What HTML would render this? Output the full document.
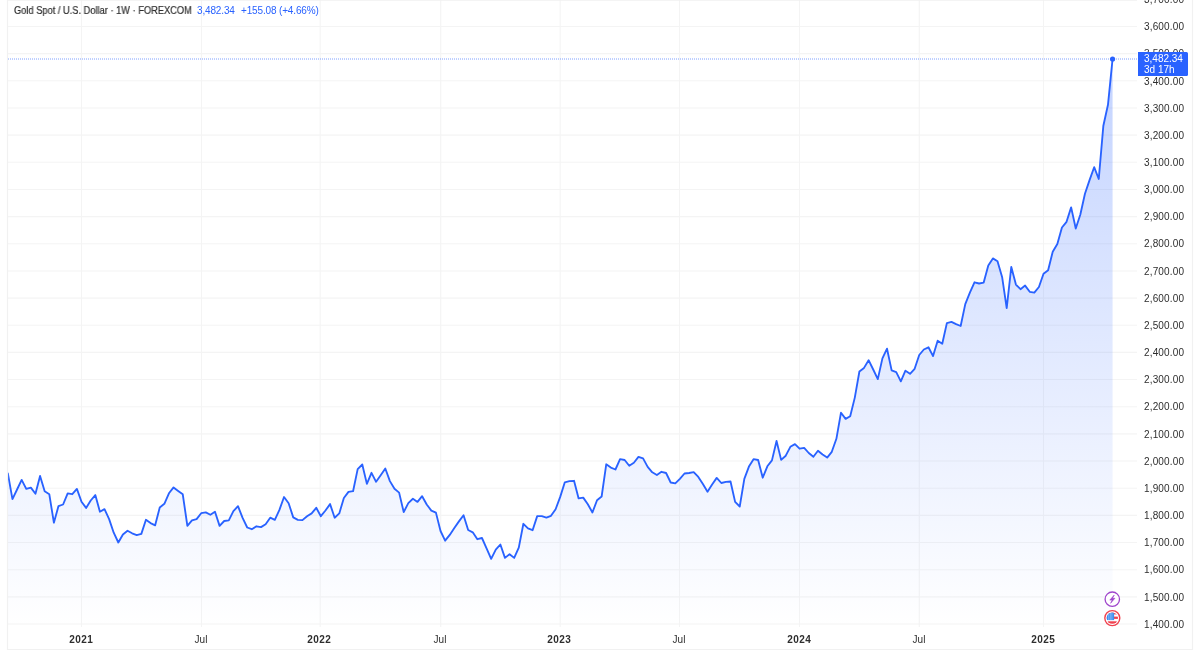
<!DOCTYPE html>
<html><head><meta charset="utf-8"><style>
*{margin:0;padding:0;box-sizing:border-box}
html,body{width:1195px;height:651px;overflow:hidden;background:#fff;font-family:"Liberation Sans",sans-serif}
.yl,.xl,.lg,.lv,.pt{will-change:transform}
svg{position:absolute;left:0;top:0}
.yl{position:absolute;left:1137px;width:47.15px;letter-spacing:0.15px;text-align:right;font-size:10px;line-height:12px;color:#2e2e2e;white-space:nowrap}
.xl{position:absolute;top:633.5px;width:60px;text-align:center;font-size:10px;line-height:12px;color:#2e2e2e}
.xl.b{font-weight:bold;letter-spacing:0.5px;text-indent:0.5px}
.lg{position:absolute;top:5.0px;font-size:10px;line-height:12px;color:#2e2e2e;white-space:nowrap;transform:scaleX(0.928);transform-origin:0 0;-webkit-text-stroke:0.2px #2e2e2e}
.lv{position:absolute;top:5.0px;font-size:10px;line-height:12px;color:#2962ff;white-space:nowrap;letter-spacing:-0.15px}
.pl{position:absolute;left:1138px;top:52.2px;width:50.2px;height:23.7px;background:#2962ff;border-radius:0 1.5px 1.5px 0}
.pt{position:absolute;left:1144.4px;color:#fff;font-size:10px;line-height:12px;white-space:nowrap}
</style></head><body>
<svg width="1195" height="651" viewBox="0 0 1195 651">
<defs>
<linearGradient id="g" x1="0" y1="59" x2="0" y2="627" gradientUnits="userSpaceOnUse">
<stop offset="0" stop-color="#2962ff" stop-opacity="0.28"/>
<stop offset="1" stop-color="#2962ff" stop-opacity="0.0"/>
</linearGradient>
<clipPath id="c"><rect x="8" y="0" width="1129" height="627"/></clipPath>
</defs>
<g stroke="#f4f4f4" stroke-width="1.1"><line x1="8" x2="1137" y1="624.00" y2="624.00"/><line x1="8" x2="1137" y1="596.84" y2="596.84"/><line x1="8" x2="1137" y1="569.68" y2="569.68"/><line x1="8" x2="1137" y1="542.52" y2="542.52"/><line x1="8" x2="1137" y1="515.36" y2="515.36"/><line x1="8" x2="1137" y1="488.20" y2="488.20"/><line x1="8" x2="1137" y1="461.04" y2="461.04"/><line x1="8" x2="1137" y1="433.88" y2="433.88"/><line x1="8" x2="1137" y1="406.73" y2="406.73"/><line x1="8" x2="1137" y1="379.57" y2="379.57"/><line x1="8" x2="1137" y1="352.41" y2="352.41"/><line x1="8" x2="1137" y1="325.25" y2="325.25"/><line x1="8" x2="1137" y1="298.09" y2="298.09"/><line x1="8" x2="1137" y1="270.93" y2="270.93"/><line x1="8" x2="1137" y1="243.77" y2="243.77"/><line x1="8" x2="1137" y1="216.61" y2="216.61"/><line x1="8" x2="1137" y1="189.45" y2="189.45"/><line x1="8" x2="1137" y1="162.29" y2="162.29"/><line x1="8" x2="1137" y1="135.14" y2="135.14"/><line x1="8" x2="1137" y1="107.98" y2="107.98"/><line x1="8" x2="1137" y1="80.82" y2="80.82"/><line x1="8" x2="1137" y1="53.66" y2="53.66"/><line x1="8" x2="1137" y1="26.50" y2="26.50"/><line x1="8" x2="1137" y1="-0.66" y2="-0.66"/><line x1="81.5" x2="81.5" y1="0" y2="627"/><line x1="201.5" x2="201.5" y1="0" y2="627"/><line x1="320.2" x2="320.2" y1="0" y2="627"/><line x1="440.7" x2="440.7" y1="0" y2="627"/><line x1="560.2" x2="560.2" y1="0" y2="627"/><line x1="679.5" x2="679.5" y1="0" y2="627"/><line x1="799.5" x2="799.5" y1="0" y2="627"/><line x1="919.3" x2="919.3" y1="0" y2="627"/><line x1="1043.5" x2="1043.5" y1="0" y2="627"/></g>
<g clip-path="url(#c)">
<path d="M7.85,473.50 L12.45,499.10 L17.06,489.50 L21.66,479.90 L26.26,488.90 L30.87,487.60 L35.47,493.80 L40.07,476.00 L44.67,491.30 L49.28,494.20 L53.88,522.70 L58.48,506.10 L63.09,504.50 L67.69,493.40 L72.29,494.20 L76.89,488.90 L81.50,501.80 L86.10,507.90 L90.70,500.50 L95.31,495.10 L99.91,511.70 L104.51,509.10 L109.12,519.10 L113.72,532.70 L118.32,542.50 L122.92,534.50 L127.53,530.80 L132.13,533.30 L136.73,535.10 L141.34,533.90 L145.94,519.80 L150.54,523.10 L155.15,525.30 L159.75,507.50 L164.35,503.80 L168.95,493.30 L173.56,487.40 L178.16,490.90 L182.76,494.30 L187.37,525.90 L191.97,520.40 L196.57,519.10 L201.18,513.20 L205.78,512.40 L210.38,514.80 L214.98,511.80 L219.59,525.90 L224.19,521.00 L228.79,520.40 L233.40,511.20 L238.00,506.20 L242.60,517.90 L247.21,527.50 L251.81,529.20 L256.41,526.30 L261.01,527.10 L265.62,524.30 L270.22,517.70 L274.82,519.80 L279.43,509.90 L284.03,497.00 L288.63,503.20 L293.24,517.40 L297.84,519.90 L302.44,520.10 L307.05,516.20 L311.65,513.40 L316.25,507.80 L320.85,516.20 L325.46,510.50 L330.06,504.10 L334.66,517.70 L339.27,513.40 L343.87,498.00 L348.47,491.90 L353.07,491.20 L357.68,469.10 L362.28,464.50 L366.88,483.90 L371.49,472.80 L376.09,481.80 L380.69,475.30 L385.30,468.50 L389.90,481.10 L394.50,488.80 L399.11,492.60 L403.71,512.10 L408.31,503.10 L412.91,498.80 L417.52,501.90 L422.12,496.20 L426.72,504.50 L431.33,510.60 L435.93,512.60 L440.53,531.00 L445.13,540.70 L449.74,534.90 L454.34,528.00 L458.94,521.40 L463.55,515.20 L468.15,530.00 L472.75,532.30 L477.36,539.20 L481.96,538.00 L486.56,548.30 L491.17,558.80 L495.77,549.60 L500.37,544.50 L504.97,557.90 L509.58,554.20 L514.18,557.90 L518.78,547.60 L523.39,523.80 L527.99,528.40 L532.59,530.20 L537.20,516.10 L541.80,516.10 L546.40,517.60 L551.00,515.80 L555.61,509.20 L560.21,496.90 L564.81,482.30 L569.42,481.10 L574.02,480.80 L578.62,498.40 L583.23,497.60 L587.83,504.20 L592.43,512.50 L597.03,500.20 L601.64,496.50 L606.24,464.30 L610.84,467.60 L615.45,469.50 L620.05,459.20 L624.65,460.00 L629.25,465.80 L633.86,462.70 L638.46,456.90 L643.06,458.40 L647.67,466.90 L652.27,472.30 L656.87,475.00 L661.48,471.80 L666.08,473.00 L670.68,482.50 L675.28,483.30 L679.89,478.80 L684.49,473.50 L689.09,473.00 L693.70,472.20 L698.30,476.90 L702.90,484.10 L707.51,491.80 L712.11,484.50 L716.71,477.90 L721.31,483.00 L725.92,481.80 L730.52,481.50 L735.12,501.90 L739.73,506.50 L744.33,478.80 L748.93,466.60 L753.54,459.20 L758.14,460.00 L762.74,477.70 L767.35,466.30 L771.95,460.40 L776.55,441.00 L781.15,459.90 L785.76,455.70 L790.36,446.80 L794.96,444.10 L799.57,448.70 L804.17,447.90 L808.77,453.00 L813.38,456.80 L817.98,450.70 L822.58,454.50 L827.18,457.60 L831.79,451.80 L836.39,438.80 L840.99,412.70 L845.60,418.90 L850.20,416.20 L854.80,397.60 L859.40,371.50 L864.01,367.90 L868.61,360.20 L873.21,369.50 L877.82,379.10 L882.42,358.40 L887.02,348.70 L891.63,370.40 L896.23,372.20 L900.83,381.40 L905.43,370.70 L910.04,373.80 L914.64,368.80 L919.24,355.00 L923.85,349.50 L928.45,347.30 L933.05,356.10 L937.66,340.70 L942.26,343.80 L946.86,323.10 L951.46,321.90 L956.07,324.20 L960.67,326.00 L965.27,304.10 L969.88,292.70 L974.48,282.30 L979.08,283.50 L983.69,282.60 L988.29,265.40 L992.89,258.40 L997.50,261.20 L1002.10,276.90 L1006.70,308.10 L1011.30,266.90 L1015.91,284.60 L1020.51,289.20 L1025.11,285.60 L1029.72,291.80 L1034.32,292.60 L1038.92,287.00 L1043.52,273.70 L1048.13,270.20 L1052.73,251.70 L1057.33,244.10 L1061.94,227.50 L1066.54,221.80 L1071.14,207.40 L1075.75,228.50 L1080.35,214.50 L1084.95,193.70 L1089.55,180.10 L1094.16,167.20 L1098.76,179.00 L1103.36,125.70 L1107.97,104.80 L1112.57,59.00 L1112.57,627 L7.85,627 Z" fill="url(#g)"/>
<path d="M7.85,473.50 L12.45,499.10 L17.06,489.50 L21.66,479.90 L26.26,488.90 L30.87,487.60 L35.47,493.80 L40.07,476.00 L44.67,491.30 L49.28,494.20 L53.88,522.70 L58.48,506.10 L63.09,504.50 L67.69,493.40 L72.29,494.20 L76.89,488.90 L81.50,501.80 L86.10,507.90 L90.70,500.50 L95.31,495.10 L99.91,511.70 L104.51,509.10 L109.12,519.10 L113.72,532.70 L118.32,542.50 L122.92,534.50 L127.53,530.80 L132.13,533.30 L136.73,535.10 L141.34,533.90 L145.94,519.80 L150.54,523.10 L155.15,525.30 L159.75,507.50 L164.35,503.80 L168.95,493.30 L173.56,487.40 L178.16,490.90 L182.76,494.30 L187.37,525.90 L191.97,520.40 L196.57,519.10 L201.18,513.20 L205.78,512.40 L210.38,514.80 L214.98,511.80 L219.59,525.90 L224.19,521.00 L228.79,520.40 L233.40,511.20 L238.00,506.20 L242.60,517.90 L247.21,527.50 L251.81,529.20 L256.41,526.30 L261.01,527.10 L265.62,524.30 L270.22,517.70 L274.82,519.80 L279.43,509.90 L284.03,497.00 L288.63,503.20 L293.24,517.40 L297.84,519.90 L302.44,520.10 L307.05,516.20 L311.65,513.40 L316.25,507.80 L320.85,516.20 L325.46,510.50 L330.06,504.10 L334.66,517.70 L339.27,513.40 L343.87,498.00 L348.47,491.90 L353.07,491.20 L357.68,469.10 L362.28,464.50 L366.88,483.90 L371.49,472.80 L376.09,481.80 L380.69,475.30 L385.30,468.50 L389.90,481.10 L394.50,488.80 L399.11,492.60 L403.71,512.10 L408.31,503.10 L412.91,498.80 L417.52,501.90 L422.12,496.20 L426.72,504.50 L431.33,510.60 L435.93,512.60 L440.53,531.00 L445.13,540.70 L449.74,534.90 L454.34,528.00 L458.94,521.40 L463.55,515.20 L468.15,530.00 L472.75,532.30 L477.36,539.20 L481.96,538.00 L486.56,548.30 L491.17,558.80 L495.77,549.60 L500.37,544.50 L504.97,557.90 L509.58,554.20 L514.18,557.90 L518.78,547.60 L523.39,523.80 L527.99,528.40 L532.59,530.20 L537.20,516.10 L541.80,516.10 L546.40,517.60 L551.00,515.80 L555.61,509.20 L560.21,496.90 L564.81,482.30 L569.42,481.10 L574.02,480.80 L578.62,498.40 L583.23,497.60 L587.83,504.20 L592.43,512.50 L597.03,500.20 L601.64,496.50 L606.24,464.30 L610.84,467.60 L615.45,469.50 L620.05,459.20 L624.65,460.00 L629.25,465.80 L633.86,462.70 L638.46,456.90 L643.06,458.40 L647.67,466.90 L652.27,472.30 L656.87,475.00 L661.48,471.80 L666.08,473.00 L670.68,482.50 L675.28,483.30 L679.89,478.80 L684.49,473.50 L689.09,473.00 L693.70,472.20 L698.30,476.90 L702.90,484.10 L707.51,491.80 L712.11,484.50 L716.71,477.90 L721.31,483.00 L725.92,481.80 L730.52,481.50 L735.12,501.90 L739.73,506.50 L744.33,478.80 L748.93,466.60 L753.54,459.20 L758.14,460.00 L762.74,477.70 L767.35,466.30 L771.95,460.40 L776.55,441.00 L781.15,459.90 L785.76,455.70 L790.36,446.80 L794.96,444.10 L799.57,448.70 L804.17,447.90 L808.77,453.00 L813.38,456.80 L817.98,450.70 L822.58,454.50 L827.18,457.60 L831.79,451.80 L836.39,438.80 L840.99,412.70 L845.60,418.90 L850.20,416.20 L854.80,397.60 L859.40,371.50 L864.01,367.90 L868.61,360.20 L873.21,369.50 L877.82,379.10 L882.42,358.40 L887.02,348.70 L891.63,370.40 L896.23,372.20 L900.83,381.40 L905.43,370.70 L910.04,373.80 L914.64,368.80 L919.24,355.00 L923.85,349.50 L928.45,347.30 L933.05,356.10 L937.66,340.70 L942.26,343.80 L946.86,323.10 L951.46,321.90 L956.07,324.20 L960.67,326.00 L965.27,304.10 L969.88,292.70 L974.48,282.30 L979.08,283.50 L983.69,282.60 L988.29,265.40 L992.89,258.40 L997.50,261.20 L1002.10,276.90 L1006.70,308.10 L1011.30,266.90 L1015.91,284.60 L1020.51,289.20 L1025.11,285.60 L1029.72,291.80 L1034.32,292.60 L1038.92,287.00 L1043.52,273.70 L1048.13,270.20 L1052.73,251.70 L1057.33,244.10 L1061.94,227.50 L1066.54,221.80 L1071.14,207.40 L1075.75,228.50 L1080.35,214.50 L1084.95,193.70 L1089.55,180.10 L1094.16,167.20 L1098.76,179.00 L1103.36,125.70 L1107.97,104.80 L1112.57,59.00" fill="none" stroke="#2962ff" stroke-width="1.85" stroke-linejoin="round" stroke-linecap="round"/>
</g>
<line x1="8" x2="1137" y1="59" y2="59" stroke="#2962ff" stroke-width="1" stroke-dasharray="1 1" opacity="0.6"/>
<circle cx="1112.57" cy="59" r="2.6" fill="#2962ff"/>
<g stroke="#f1f1f1" stroke-width="1.2" fill="none">
<line x1="7" x2="1137" y1="0.2" y2="0.2"/>
<line x1="7.5" x2="7.5" y1="0" y2="650"/>
<line x1="7" x2="1193" y1="649.5" y2="649.5"/>
<line x1="1192.5" x2="1192.5" y1="0" y2="650"/>
</g>
<!-- icons -->
<g transform="translate(1112.3,599.2)">
<circle r="7.2" fill="#fff" stroke="#9f45cc" stroke-width="1.3"/>
<path d="M1.9,-4.1 L-2.5,0.9 L-0.1,0.9 L-1.7,4.1 L2.6,-0.9 L0.2,-0.9 Z" fill="#9f45cc" stroke="#9f45cc" stroke-width="0.6" stroke-linejoin="round"/>
</g>
<g transform="translate(1112.3,618.1)">
<circle r="7.5" fill="#fff" stroke="#f0424f" stroke-width="1.4"/>
<clipPath id="fc"><circle r="5.7"/></clipPath>
<g clip-path="url(#fc)">
<rect x="-6" y="-6" width="12" height="12" fill="#fff"/>
<rect x="-6" y="-6" width="12" height="2.3" fill="#f0424f"/>
<rect x="-6" y="-1.5" width="12" height="2.3" fill="#f0424f"/>
<rect x="-6" y="3.2" width="12" height="2.8" fill="#f0424f"/>
<rect x="-6" y="-6" width="7.8" height="8" fill="#3d8ef0"/>
<g stroke="#9fcbf8" stroke-width="0.6"><line x1="-3.6" x2="-3.6" y1="-6" y2="2"/><line x1="-2" x2="-2" y1="-6" y2="2"/><line x1="-0.4" x2="-0.4" y1="-6" y2="2"/></g>
</g>
</g>
</svg>
<div class="lg" style="left:13.6px">Gold Spot / U.S. Dollar · 1W · FOREXCOM</div>
<div class="lv" style="left:196.7px">3,482.34</div>
<div class="lv" style="left:241px">+155.08 (+4.66%)</div>
<div class="yl" style="top:618.70px">1,400.00</div><div class="yl" style="top:591.54px">1,500.00</div><div class="yl" style="top:564.38px">1,600.00</div><div class="yl" style="top:537.22px">1,700.00</div><div class="yl" style="top:510.06px">1,800.00</div><div class="yl" style="top:482.90px">1,900.00</div><div class="yl" style="top:455.74px">2,000.00</div><div class="yl" style="top:428.58px">2,100.00</div><div class="yl" style="top:401.43px">2,200.00</div><div class="yl" style="top:374.27px">2,300.00</div><div class="yl" style="top:347.11px">2,400.00</div><div class="yl" style="top:319.95px">2,500.00</div><div class="yl" style="top:292.79px">2,600.00</div><div class="yl" style="top:265.63px">2,700.00</div><div class="yl" style="top:238.47px">2,800.00</div><div class="yl" style="top:211.31px">2,900.00</div><div class="yl" style="top:184.15px">3,000.00</div><div class="yl" style="top:156.99px">3,100.00</div><div class="yl" style="top:129.84px">3,200.00</div><div class="yl" style="top:102.68px">3,300.00</div><div class="yl" style="top:75.52px">3,400.00</div><div class="yl" style="top:48.36px">3,500.00</div><div class="yl" style="top:21.20px">3,600.00</div><div class="yl" style="top:-5.96px">3,700.00</div>
<div class="pl"></div><div class="pt" style="top:52.9px">3,482.34</div><div class="pt" style="top:63.9px">3d 17h</div>
<div class="xl b" style="left:50.50px">2021</div><div class="xl" style="left:170.70px">Jul</div><div class="xl b" style="left:289.20px">2022</div><div class="xl" style="left:409.90px">Jul</div><div class="xl b" style="left:529.20px">2023</div><div class="xl" style="left:648.70px">Jul</div><div class="xl b" style="left:768.50px">2024</div><div class="xl" style="left:888.50px">Jul</div><div class="xl b" style="left:1012.50px">2025</div>
</body></html>
